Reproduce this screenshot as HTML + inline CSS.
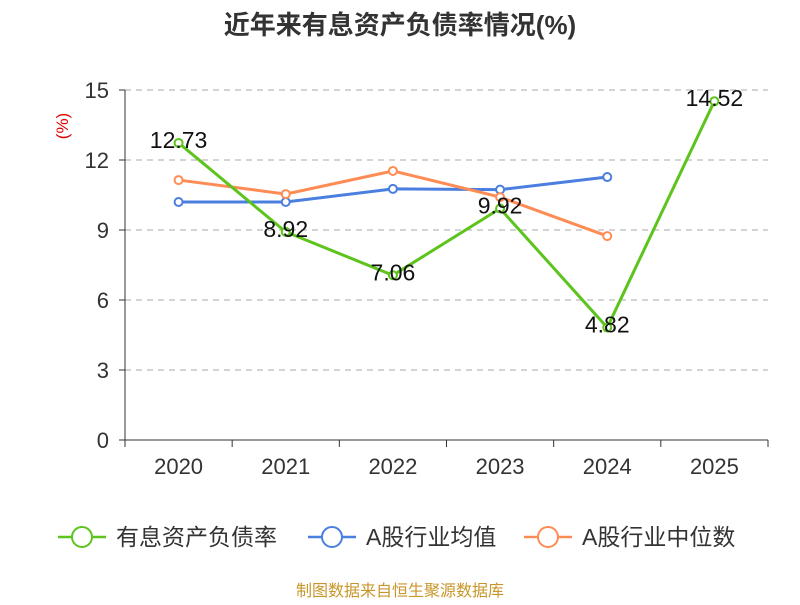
<!DOCTYPE html>
<html><head><meta charset="utf-8"><style>
body{margin:0;background:#fff;}
svg text{font-family:"Liberation Sans","Noto Sans CJK SC",sans-serif;}
</style></head><body>
<svg id="chart" width="800" height="600" xmlns="http://www.w3.org/2000/svg">
<text x="400" y="34" text-anchor="middle" font-size="26" font-weight="bold" fill="#333">近年来有息资产负债率情况(%)</text>
<text transform="translate(68,126) rotate(-90)" text-anchor="middle" font-size="17" fill="#e00000">(%)</text>
<g id="grid"></g><g id="axes"></g><g id="series"></g>
<g>
<g><line x1="58" y1="537" x2="106" y2="537" stroke="#5cc41c" stroke-width="2.5"/><circle cx="82" cy="537" r="10" fill="#fff" stroke="#5cc41c" stroke-width="2"/><text x="116" y="545" font-size="23" fill="#333">有息资产负债率</text></g>
<g><line x1="308" y1="537" x2="356" y2="537" stroke="#4a7fe0" stroke-width="2.5"/><circle cx="332" cy="537" r="10" fill="#fff" stroke="#4a7fe0" stroke-width="2"/><text x="366" y="545" font-size="23" fill="#333">A股行业均值</text></g>
<g><line x1="524" y1="537" x2="572" y2="537" stroke="#ff8c55" stroke-width="2.5"/><circle cx="548" cy="537" r="10" fill="#fff" stroke="#ff8c55" stroke-width="2"/><text x="582" y="545" font-size="23" fill="#333">A股行业中位数</text></g>
</g>
<text x="400" y="596" text-anchor="middle" font-size="16" fill="#c8962a">制图数据来自恒生聚源数据库</text>
</svg>
<script>
const categories=["2020","2021","2022","2023","2024","2025"];
const debtRatio=[12.73,8.92,7.06,9.92,4.82,14.52];
const industryMean=[10.2,10.2,10.76,10.73,11.27];
const industryMedian=[11.14,10.54,11.53,10.41,8.74];
const yTicks=[0,3,6,9,12,15];
const NS="http://www.w3.org/2000/svg";
const x0=125,x1=768,y0=440,y1=90;
const step=(x1-x0)/categories.length;
const xs=i=>x0+step*(i+0.5);
const ys=v=>y0-(v/15)*(y0-y1);
function mk(tag,attrs,parent,txt){const e=document.createElementNS(NS,tag);for(const k in attrs)e.setAttribute(k,attrs[k]);if(txt!==undefined)e.textContent=txt;parent.appendChild(e);return e;}
const grid=document.getElementById('grid'),axes=document.getElementById('axes'),ser=document.getElementById('series');
yTicks.forEach(t=>{
 if(t>0){const g=mk('line',{x1:x0,x2:x1,y1:ys(t),y2:ys(t),stroke:'#aaa','stroke-dasharray':'6,5'},grid);
 
 }
 const tk=mk('line',{x1:x0-6,x2:x0,y1:ys(t),y2:ys(t),stroke:'#333'},axes);
 
 
 const l=mk('text',{x:x0-16,y:ys(t)+8,'text-anchor':'end','font-size':22,fill:'#333'},axes,String(t));
 
 
});
const ya=mk('line',{x1:x0,x2:x0,y1:y1,y2:y0,stroke:'#333'},axes);


const xa=mk('line',{x1:x0,x2:x1,y1:y0,y2:y0,stroke:'#333'},axes);


for(let i=0;i<=categories.length;i++){const t=mk('line',{x1:x0+step*i,x2:x0+step*i,y1:y0,y2:y0+7,stroke:'#333'},axes);
 
 }
categories.forEach((c,i)=>{const l=mk('text',{x:xs(i),y:474,'text-anchor':'middle','font-size':22,fill:'#333'},axes,c);
 
 });
function drawSeries(vals,color,name){
 const p=mk('polyline',{points:vals.map((v,i)=>xs(i)+','+ys(v)).join(' '),fill:'none',stroke:color,'stroke-width':3},ser);
 
 
 vals.forEach((v,i)=>{
  const c=mk('circle',{cx:xs(i),cy:ys(v),r:4,fill:'#fff',stroke:color,'stroke-width':2},ser);
  
  
 });
}
drawSeries(industryMean,'#4a7fe0','industry-mean');
drawSeries(industryMedian,'#ff8c55','industry-median');
drawSeries(debtRatio,'#5cc41c','debt-ratio');
debtRatio.forEach((v,i)=>{
 const l=mk('text',{x:xs(i),y:ys(v)+5,'text-anchor':'middle','font-size':23,fill:'#111'},ser,v.toFixed(2));
 
 
});
</script>
</body></html>
